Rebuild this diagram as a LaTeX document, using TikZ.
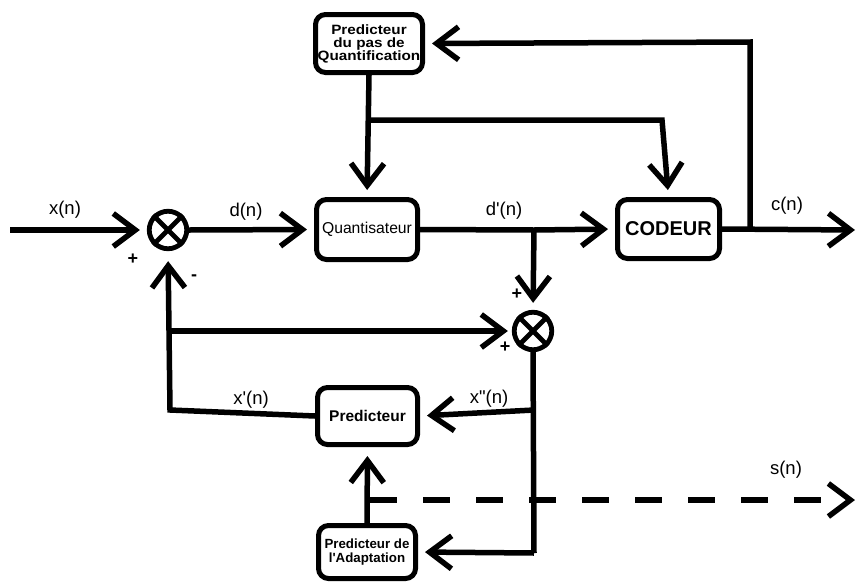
\documentclass[tikz,border=0pt]{standalone}
\usepackage{fontspec}
\setmainfont{Liberation Sans}
\usetikzlibrary{arrows.meta}
\newcommand\widetxt[1]{\scalebox{1.13}[1]{#1}}
\begin{document}
\begin{tikzpicture}[x=1pt,y=-1pt,
  line width=5.5pt,
  arr/.style={-{Straight Barb[length=22pt,width=33pt,line width=5.5pt]}},
  gap/.style={shorten >=7pt},
  blk/.style={draw,rounded corners=10pt,inner sep=0pt,align=center,line width=5pt},
  sumc/.style={draw,circle,minimum size=37.5pt,inner sep=0pt,line width=4.8pt},
  lbl/.style={font=\fontsize{18.5}{20}\selectfont},
  sgn/.style={font=\bfseries\fontsize{18}{19}\selectfont}]
\useasboundingbox (0,0) rectangle (857,584);
% blocks
\node[blk,minimum width=107pt,minimum height=58pt,font=\bfseries\fontsize{13.5}{13}\selectfont] (pq) at (369,43.5) {\widetxt{Predicteur}\\\widetxt{du pas de}\\\widetxt{Quantification}};
\node[blk,minimum width=101pt,minimum height=60pt,font=\fontsize{15.7}{17}\selectfont] (q) at (367,229.5) {Quantisateur};
\node[blk,minimum width=102pt,minimum height=59pt,font=\bfseries\fontsize{20}{22}\selectfont] (cod) at (668.5,229) {CODEUR};
\node[blk,minimum width=100pt,minimum height=57pt,font=\bfseries\fontsize{15.5}{17}\selectfont] (pr) at (367.5,416) {Predicteur};
\node[blk,minimum width=97pt,minimum height=53pt,font=\bfseries\fontsize{13.3}{14.5}\selectfont] (pa) at (367,552) {Predicteur de\\l\textquotesingle Adaptation};
% summers
\node[sumc] (s1) at (168,230) {};
\draw[line width=4.8pt] (s1.north west) -- (s1.south east) (s1.north east) -- (s1.south west);
\node[sumc] (s2) at (533,331) {};
\draw[line width=4.8pt] (s2.north west) -- (s2.south east) (s2.north east) -- (s2.south west);
% coordinates
\coordinate (in) at (10,230);
\coordinate (out) at (855,230);
\coordinate (b1) at (534,230);
\coordinate (b2) at (750,230);
\coordinate (t1) at (750,42);
\coordinate (j1) at (370,120);
\coordinate (j2) at (662,120);
\coordinate (f1) at (170,331);
\coordinate (f2) at (170,410);
\coordinate (v1) at (534,410);
\coordinate (v2) at (534,553);
\coordinate (d1) at (370,500);
\coordinate (d2) at (855,500);
% forward path
\draw[arr,gap] (in) -- (s1.west);
\draw[arr,gap] (s1.east) -- (q.west);
\draw (q.east) -- (b1);
\draw[arr,gap] (b1) -- (cod.west);
\draw[arr,gap] (b1) -- (s2.north);
\draw[arr] (cod.east) -- (out);
\draw[arr,gap] (b2) -- (t1) -- (pq.east);
\draw[arr,gap] (pq.south) -- (q.north);
\draw[arr,gap] (j1) -- (j2) -- (cod.north);
% feedback
\draw[arr,shorten >=10pt] (pr.west) -- (f2) -- (s1.south);
\draw[arr,shorten >=4pt] (f1) -- (s2.west);
\draw (s2.south) -- (v2);
\draw[arr,gap] (v1) -- (pr.east);
\draw[arr,gap] (v2) -- (pa.east);
\draw[arr,shorten >=9pt] (pa.north) -- (pr.south);
\draw[arr,dash pattern=on 27pt off 26pt] (d1) -- (d2);
% labels
\node[lbl] at (65,210) {x(n)};
\node[lbl] at (246,212) {d(n)};
\node[lbl] at (504,211) {d\textquotesingle(n)};
\node[lbl] at (787,206) {c(n)};
\node[lbl] at (251,400) {x\textquotesingle(n)};
\node[lbl] at (489,399) {x\textquotedbl(n)};
\node[lbl] at (786,470) {s(n)};
\node[sgn] at (133,259) {+};
\node[sgn] at (194,278) {-};
\node[sgn] at (517,294) {+};
\node[sgn] at (505,347) {+};
\end{tikzpicture}
\end{document}
